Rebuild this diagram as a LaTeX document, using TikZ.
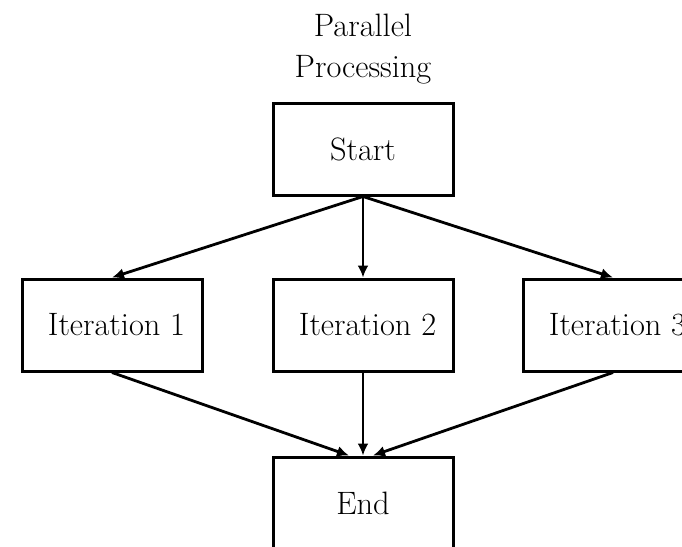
\documentclass[tikz,border=0pt]{standalone}
\usetikzlibrary{arrows.meta}
\begin{document}
\begin{tikzpicture}[x=0.5pt, y=-0.5pt,
  txt/.style={font=\fontsize{16.2}{20.5}\selectfont},
  box/.style={txt, draw, line width=1.5pt, minimum width=90pt, minimum height=46pt, inner sep=0pt},
  itbox/.style={box, execute at begin node={\hspace*{4.5pt}}},
  flow/.style={-{Latex[length=6pt,width=5.5pt]}, line width=1.4pt}]
\clip (0,0) rectangle (682,547);

\node[txt, align=center] (title) at (363,49) {Parallel\\Processing};
\node[box] (start) at (363,149) {Start};

\node[itbox] (iter1) at (112,325) {Iteration 1};
\node[itbox] (iter2) at (363,325) {Iteration 2};
\node[itbox] (iter3) at (613,325) {Iteration 3};

\node[box] (end) at (363,503) {End};

\draw[flow] (start.south) -- (iter1.north);
\draw[flow] (start.south) -- (iter2.north);
\draw[flow] (start.south) -- (iter3.north);

\draw[flow] (iter1.south) -- ([xshift=-7pt]end.north);
\draw[flow] (iter2.south) -- (end.north);
\draw[flow] (iter3.south) -- ([xshift=5pt]end.north);
%\draw (current bounding box.south west) rectangle (current bounding box.north east);
\end{tikzpicture}
\end{document}
